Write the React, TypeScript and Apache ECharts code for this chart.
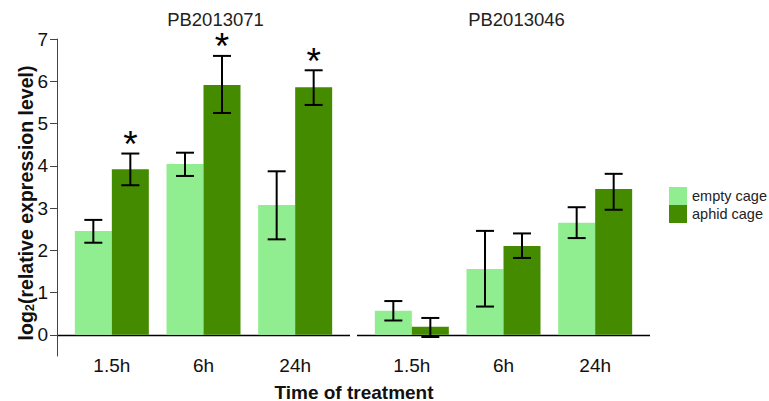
import React, { useEffect, useRef } from "react";
import * as echarts from "echarts";

const categories = ["1.5h", "6h", "24h"];
const panelTitles = ["PB2013071", "PB2013046"];
const seriesNames = ["empty cage", "aphid cage"];
const yTicks = [0, 1, 2, 3, 4, 5, 6, 7];

// PB2013071
const pb071Empty = [2.46, 4.04, 3.07];
const pb071EmptyLow = [2.18, 3.76, 2.26];
const pb071EmptyHigh = [2.72, 4.31, 3.87];
const pb071Aphid = [3.92, 5.91, 5.86];
const pb071AphidLow = [3.54, 5.25, 5.44];
const pb071AphidHigh = [4.29, 6.6, 6.26];
const pb071AphidSignif = [1, 1, 1];

// PB2013046
const pb046Empty = [0.57, 1.56, 2.65];
const pb046EmptyLow = [0.34, 0.67, 2.29];
const pb046EmptyHigh = [0.8, 2.46, 3.02];
const pb046Aphid = [0.19, 2.1, 3.45];
const pb046AphidLow = [-0.05, 1.82, 2.96];
const pb046AphidHigh = [0.4, 2.4, 3.81];
const pb046AphidSignif = [0, 0, 0];

const LIGHT = "#90EE90";
const DARK = "#458B00";
const FONT = "'Liberation Sans', Arial, Helvetica, sans-serif";
const BAR_W = 37;

function errRows(low: number[], high: number[], grp: number, signif: number[] | null) {
  return categories.map((_, i) => [i, low[i], high[i], grp, signif ? signif[i] : 0]);
}

const renderErr = (params: any, api: any) => {
  const cat = api.value(0);
  const low = api.value(1);
  const high = api.value(2);
  const grp = api.value(3);
  const star = api.value(4);
  const pLow = api.coord([cat, low]);
  const pHigh = api.coord([cat, high]);
  const x = pLow[0] + (grp === 0 ? -1 : 1) * (BAR_W / 2);
  const cap = 9;
  const st = { stroke: "#000", lineWidth: 2 };
  const children: any[] = [
    { type: "line", shape: { x1: x, y1: pLow[1], x2: x, y2: pHigh[1] }, style: st },
    { type: "line", shape: { x1: x - cap, y1: pLow[1], x2: x + cap, y2: pLow[1] }, style: st },
    { type: "line", shape: { x1: x - cap, y1: pHigh[1], x2: x + cap, y2: pHigh[1] }, style: st },
  ];
  if (star) {
    children.push({
      type: "text",
      x: x,
      y: pHigh[1] - 9,
      style: {
        text: "*",
        fill: "#000",
        font: `normal 37px ${FONT}`,
        lineHeight: 12,
        textAlign: "center",
        textVerticalAlign: "middle",
      },
    });
  }
  return { type: "group", children };
};

export default function App() {
  const ref = useRef<HTMLDivElement>(null);
  useEffect(() => {
    if (!ref.current) return;
    const chart = echarts.init(ref.current, null, { renderer: "svg" });
    const yBase = {
      type: "value",
      min: -0.5,
      max: 7,
      splitLine: { show: false },
    };
    const xBase = {
      type: "category",
      data: categories,
      axisLine: { show: false, onZero: false },
      axisTick: { show: false },
      axisLabel: { fontSize: 19, color: "#111", fontFamily: FONT, margin: 0 },
    };
    chart.setOption({
      animation: false,
      backgroundColor: "#fff",
      textStyle: { fontFamily: FONT },
      grid: [
        { left: 66, right: 428, top: 39, bottom: 45 },
        { left: 366, right: 128, top: 39, bottom: 45 },
      ],
      xAxis: [
        { ...xBase, gridIndex: 0 },
        { ...xBase, gridIndex: 1 },
      ],
      yAxis: [
        {
          ...yBase,
          gridIndex: 0,
          offset: 9,
          axisLine: { show: true, lineStyle: { color: "#444", width: 1 } },
          axisTick: { show: true, length: 7, customValues: yTicks, lineStyle: { color: "#444" } },
          axisLabel: { customValues: yTicks, fontSize: 19, color: "#111", fontFamily: FONT, margin: 9 },
        },
        {
          ...yBase,
          gridIndex: 1,
          axisLine: { show: false },
          axisTick: { show: false },
          axisLabel: { show: false },
        },
      ],
      legend: {
        data: seriesNames,
        orient: "vertical",
        left: 669,
        top: 187,
        itemWidth: 18,
        itemHeight: 18,
        itemGap: 0,
        padding: 0,
        icon: "rect",
        textStyle: { fontSize: 14.5, color: "#222", fontFamily: FONT },
      },
      graphic: [
        { type: "line", shape: { x1: 57, y1: 335.5, x2: 350, y2: 335.5 }, style: { stroke: "#000", lineWidth: 1.3 } },
        { type: "line", shape: { x1: 357, y1: 335.5, x2: 650, y2: 335.5 }, style: { stroke: "#000", lineWidth: 1.3 } },
        {
          type: "text", x: 215.5, y: 19,
          style: { text: panelTitles[0], font: `normal 18.5px ${FONT}`, fill: "#222", lineHeight: 18, textAlign: "center", textVerticalAlign: "middle" },
        },
        {
          type: "text", x: 516.5, y: 19,
          style: { text: panelTitles[1], font: `normal 18.5px ${FONT}`, fill: "#222", lineHeight: 18, textAlign: "center", textVerticalAlign: "middle" },
        },
        {
          type: "text", x: 354, y: 392,
          style: { text: "Time of treatment", font: `bold 19px ${FONT}`, fill: "#111", textAlign: "center", textVerticalAlign: "middle" },
        },
        {
          type: "text", x: 25, y: 203, rotation: Math.PI / 2,
          style: {
            text: "{a|log}{s|2}{a|(relative expression level)}",
            textAlign: "center",
            textVerticalAlign: "middle",
            fill: "#111",
            rich: {
              a: { font: `bold 19.5px ${FONT}`, fill: "#111", verticalAlign: "bottom", lineHeight: 22 },
              s: { font: `bold 13px ${FONT}`, fill: "#111", verticalAlign: "bottom", lineHeight: 16 },
            },
          },
        },
      ],
      series: [
        { name: seriesNames[0], type: "bar", xAxisIndex: 0, yAxisIndex: 0, data: pb071Empty, barWidth: BAR_W, barGap: "0%", itemStyle: { color: LIGHT } },
        { name: seriesNames[1], type: "bar", xAxisIndex: 0, yAxisIndex: 0, data: pb071Aphid, barWidth: BAR_W, barGap: "0%", itemStyle: { color: DARK } },
        { name: seriesNames[0], type: "bar", xAxisIndex: 1, yAxisIndex: 1, data: pb046Empty, barWidth: BAR_W, barGap: "0%", itemStyle: { color: LIGHT } },
        { name: seriesNames[1], type: "bar", xAxisIndex: 1, yAxisIndex: 1, data: pb046Aphid, barWidth: BAR_W, barGap: "0%", itemStyle: { color: DARK } },
        {
          name: "err071", type: "custom", xAxisIndex: 0, yAxisIndex: 0, z: 5, renderItem: renderErr,
          encode: { x: 0, y: [1, 2] },
          data: [...errRows(pb071EmptyLow, pb071EmptyHigh, 0, null), ...errRows(pb071AphidLow, pb071AphidHigh, 1, pb071AphidSignif)],
        },
        {
          name: "err046", type: "custom", xAxisIndex: 1, yAxisIndex: 1, z: 5, renderItem: renderErr,
          encode: { x: 0, y: [1, 2] },
          data: [...errRows(pb046EmptyLow, pb046EmptyHigh, 0, null), ...errRows(pb046AphidLow, pb046AphidHigh, 1, pb046AphidSignif)],
        },
      ],
    });
    return () => chart.dispose();
  }, []);
  return <div ref={ref} style={{ width: 769, height: 401, position: "absolute", left: 0, top: 0 }} />;
}
